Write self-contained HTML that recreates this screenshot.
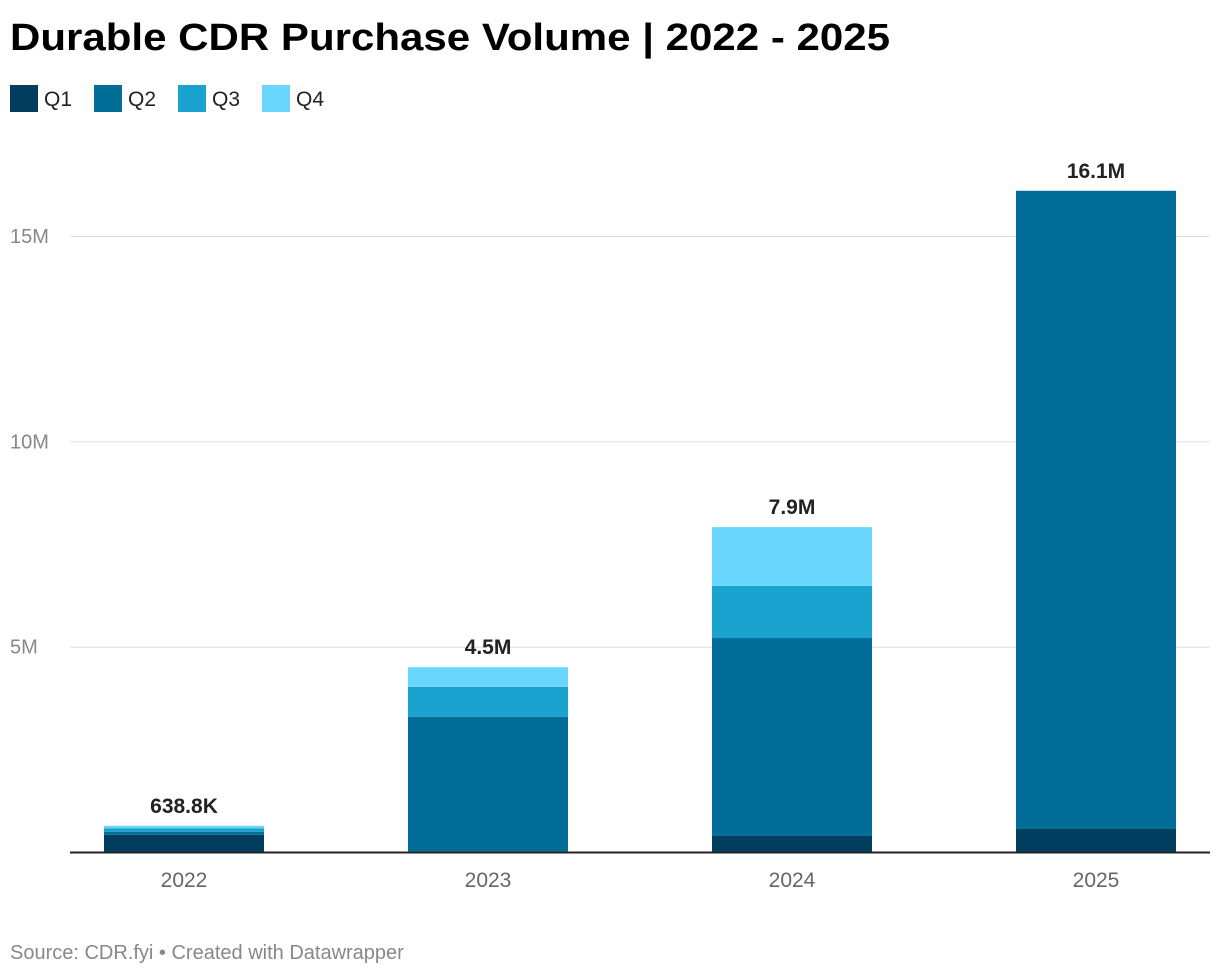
<!DOCTYPE html>
<html><head><meta charset="utf-8"><style>
body{margin:0;background:#fff;font-family:"Liberation Sans",sans-serif;}
svg{display:block}
</style></head><body>
<svg width="1220" height="976">
<text x="10" y="50" font-size="38" font-weight="bold" fill="#000" textLength="880" lengthAdjust="spacingAndGlyphs">Durable CDR Purchase Volume | 2022 - 2025</text>
<g id="legend"></g>
<g id="grid"></g>
<g id="bars"></g>
<line x1="70" x2="1210" y1="852.5" y2="852.5" stroke="#222" stroke-width="2"/>
<text x="10" y="959" font-size="20" fill="#888">Source: CDR.fyi • Created with Datawrapper</text>
</svg>
<script>
const categories=["2022","2023","2024","2025"];
const seriesNames=["Q1","Q2","Q3","Q4"];
const q1=[0.42,0.02,0.39,0.56];
const q2=[0.07,3.27,4.82,15.54];
const q3=[0.09,0.73,1.27,0];
const q4=[0.059,0.48,1.43,0];
const totalLabels=["638.8K","4.5M","7.9M","16.1M"];
const yTicks=[5,10,15];
const yTickLabels=["5M","10M","15M"];
const colors=["#003d5e","#006e96","#1aa3cf","#69d6fd"];
const NS="http://www.w3.org/2000/svg";
const y0=852,pxPerM=41.07,band=304,barW=160;
const y=v=>y0-v*pxPerM;
const xc=i=>184+band*i;
function mk(t,a,p){const e=document.createElementNS(NS,t);for(const k in a)e.setAttribute(k,a[k]);p.appendChild(e);return e;}
const grid=document.getElementById('grid');
yTicks.forEach((t,i)=>{
  const l=mk('line',{x1:70,x2:1210,y1:y(t)+0.5,y2:y(t)+0.5,stroke:'#ddd','stroke-width':1},grid);
  
  
  const tx=mk('text',{x:10,y:y(t)+7,'font-size':20,fill:'#888'},grid);
  tx.textContent=yTickLabels[i];
  
  
});
const leg=document.getElementById('legend');
let lx=10;
seriesNames.forEach((s,i)=>{
  const r=mk('rect',{x:lx,y:85,width:28,height:27,fill:colors[i]},leg);
  
  
  const t=mk('text',{x:lx+34,y:106,'font-size':21,fill:'#222'},leg);
  t.textContent=s;
  
  
  lx+=84;
});
const bars=document.getElementById('bars');
const series=[q1,q2,q3,q4];
categories.forEach((c,i)=>{
  let acc=0;
  series.forEach((sv,k)=>{
    const v=sv[i];if(v<=0)return;
    const r=mk('rect',{x:xc(i)-barW/2,y:y(acc+v),width:barW,height:v*pxPerM,fill:colors[k]},bars);
    
    
    acc+=v;
  });
  const t=mk('text',{x:xc(i),y:y(acc)-13,'font-size':21,'font-weight':'bold','text-anchor':'middle',fill:'#222'},bars);
  t.textContent=totalLabels[i];
  
  
  const xl=mk('text',{x:xc(i),y:887,'font-size':21,'text-anchor':'middle',fill:'#666'},bars);
  xl.textContent=c;
  
  
});
</script>
</body></html>
